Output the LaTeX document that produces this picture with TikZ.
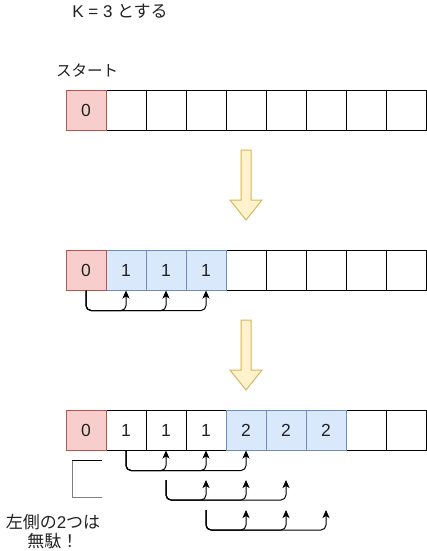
\documentclass[tikz,border=0pt]{standalone}
\usepackage{fontspec}
\setmainfont{Liberation Sans}
\newfontfamily\jp{Noto Sans CJK JP}
\usetikzlibrary{arrows.meta}
\definecolor{redfill}{HTML}{F8CECC}
\definecolor{redline}{HTML}{B85450}
\definecolor{bluefill}{HTML}{DAE8FC}
\definecolor{blueline}{HTML}{6C8EBF}
\definecolor{yelfill}{HTML}{FFF2CC}
\definecolor{yelline}{HTML}{D6B656}
\definecolor{txt}{HTML}{222222}
\begin{document}
\begin{tikzpicture}[x=1pt,y=-1pt,
  cell/.style={draw=black,fill=white,line width=1pt,minimum width=40pt,minimum height=40pt,inner sep=0pt,
    text=txt,font=\fontsize{17.5}{20}\selectfont},
  redcell/.style={cell,draw=redline,fill=redfill},
  bluecell/.style={cell,draw=blueline,fill=bluefill},
  conn/.style={draw=black,line width=1pt,rounded corners=5pt,-{Stealth[length=8pt,width=7pt,inset=2pt]}},
  bigarrow/.style={draw=yelline,fill=yelfill,line width=1pt,line join=miter},
  lbl/.style={text=txt,inner sep=0pt,font=\fontsize{17}{19}\selectfont}
]
\useasboundingbox (0,0) rectangle (426,551);

% labels
\node[lbl] (title) at (120,11) {K = 3 {\jp とする}};
\node[lbl,font=\fontsize{15.5}{18}\selectfont] (start) at (87,71) {\jp スタート};
\node[lbl,align=center] (note) at (53,532) {\jp 左側の{\rmfamily 2}つは\\\jp 無駄！};

% row 1
\foreach \i in {1,...,8} {\node[cell] (a\i) at ({86+40*\i},110) {};}
\node[redcell] (a0) at (86,110) {0};

% row 2
\foreach \i in {4,...,8} {\node[cell] (b\i) at ({86+40*\i},270) {};}
\foreach \i in {1,2,3} {\node[bluecell] (b\i) at ({86+40*\i},270) {1};}
\node[redcell] (b0) at (86,270) {0};

% row 3
\foreach \i in {1,2,3} {\node[cell] (c\i) at ({86+40*\i},430) {1};}
\foreach \i in {7,8} {\node[cell] (c\i) at ({86+40*\i},430) {};}
\foreach \i in {4,5,6} {\node[bluecell] (c\i) at ({86+40*\i},430) {2};}
\node[redcell] (c0) at (86,430) {0};

% big yellow arrows
\draw[bigarrow] (241,150) -- (251,150) -- (251,200) -- (262,200) -- (246,220) -- (230,200) -- (241,200) -- cycle;
\draw[bigarrow] (241,320) -- (251,320) -- (251,370) -- (262,370) -- (246,390) -- (230,370) -- (241,370) -- cycle;

% row 2 connectors
\foreach \t in {1,2,3} {\draw[conn] (b0.south) -- ++(0,20) -| (b\t.south);}

% row 3 connectors, first line
\foreach \t in {2,3,4} {\draw[conn] (c1.south) -- ++(0,20) -| (c\t.south);}
% second line
\coordinate (s2) at (166,480);
\coordinate (e21) at (206,480);
\coordinate (e22) at (246,480);
\coordinate (e23) at (286,480);
\foreach \t in {1,2,3} {\draw[conn] (s2) -- ++(0,20) -| (e2\t);}
% third line
\coordinate (s3) at (206,510);
\coordinate (e31) at (246,510);
\coordinate (e32) at (286,510);
\coordinate (e33) at (326,510);
\foreach \t in {1,2,3} {\draw[conn] (s3) -- ++(0,20) -| (e3\t);}

% bracket
\coordinate (k1) at (102,460.5);
\coordinate (k2) at (72,460.5);
\coordinate (k3) at (72,497);
\coordinate (k4) at (102,497);
\draw[black,line width=1pt] (k1) -- (k2);
\draw[gray,line width=1pt] (k2) -- (k3) -- (k4);
\end{tikzpicture}
\end{document}
